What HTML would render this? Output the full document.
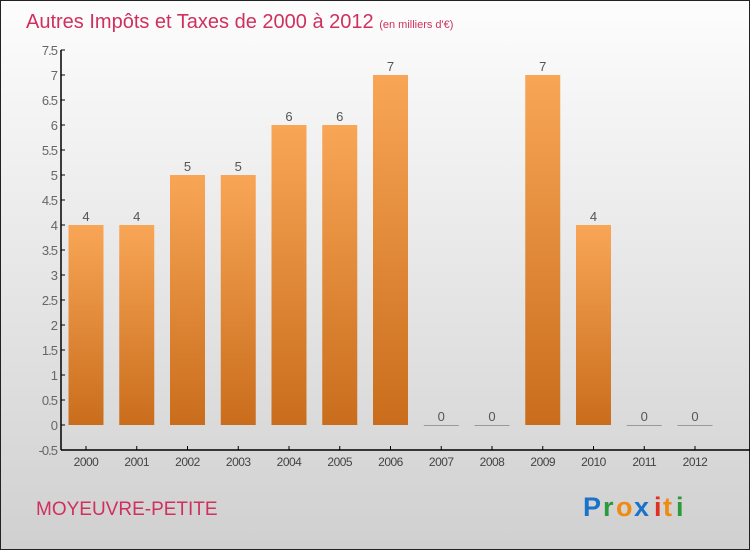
<!DOCTYPE html>
<html><head><meta charset="utf-8"><style>
body{margin:0;width:750px;height:550px;overflow:hidden;font-family:"Liberation Sans",sans-serif}
</style></head><body>
<svg width="750" height="550" xmlns="http://www.w3.org/2000/svg">
<defs>
<linearGradient id="bg" x1="0" y1="0" x2="0" y2="1"><stop offset="0" stop-color="#fdfdfd"/><stop offset="1" stop-color="#d0d0d0"/></linearGradient>
<linearGradient id="bar" x1="0" y1="0" x2="0" y2="1"><stop offset="0" stop-color="#f8a656"/><stop offset="1" stop-color="#c96d1c"/></linearGradient>
</defs>
<rect x="0.5" y="0.5" width="749" height="549" fill="url(#bg)" stroke="#222"/>
<text x="26" y="28" font-size="20" fill="#d0305e">Autres Impôts et Taxes de 2000 à 2012 <tspan font-size="11">(en milliers d'€)</tspan></text>
<g id="yaxis"></g>
<g id="xaxis"></g>
<g id="bars"></g>
<text x="36" y="515" font-size="19" fill="#d0305e">MOYEUVRE-PETITE</text>
<g font-size="27" font-weight="bold">
<text x="583" y="516" fill="#1a73c8">P</text><text x="603" y="516" fill="#2a9a3a">r</text><text x="616" y="516" fill="#f08a10">o</text><text x="634" y="516" fill="#1a73c8">x</text><text x="654" y="516" fill="#e03020">i</text><text x="663" y="516" fill="#f08a10">t</text><text x="676" y="516" fill="#2a9a3a">i</text>
</g>
</svg>
<script>
const years=["2000","2001","2002","2003","2004","2005","2006","2007","2008","2009","2010","2011","2012"];
const values=[4,4,5,5,6,6,7,0,0,7,4,0,0];
const yTicks=[-0.5,0,0.5,1,1.5,2,2.5,3,3.5,4,4.5,5,5.5,6,6.5,7,7.5];
const yTickLabels=["-0.5","0","0.5","1","1.5","2","2.5","3","3.5","4","4.5","5","5.5","6","6.5","7","7.5"];
const NS="http://www.w3.org/2000/svg";
const y=v=>425-v*50;
const xc=i=>86+i*50.75;
function mk(t,a,p){const e=document.createElementNS(NS,t);for(const k in a)e.setAttribute(k,a[k]);p.appendChild(e);return e;}
const ya=document.getElementById('yaxis'),xa=document.getElementById('xaxis'),bs=document.getElementById('bars');
mk('line',{x1:61,y1:y(7.5),x2:61,y2:y(-0.5),stroke:'#000','stroke-width':1.5},ya);
yTicks.forEach((v,i)=>{
  mk('line',{x1:61,y1:y(v),x2:65,y2:y(v),stroke:'#000'},ya);
  const t=mk('text',{x:57,y:y(v)+5,'text-anchor':'end','font-size':13,fill:'#666','letter-spacing':'-1'},ya);
  t.textContent=yTickLabels[i];
  
  
});
mk('line',{x1:61,y1:y(-0.5),x2:750,y2:y(-0.5),stroke:'#000','stroke-width':1.5},xa);
years.forEach((yr,i)=>{
  mk('line',{x1:xc(i),y1:y(-0.5),x2:xc(i),y2:y(-0.5)-4,stroke:'#000'},xa);
  const t=mk('text',{x:xc(i),y:466,'text-anchor':'middle','font-size':12,fill:'#444','letter-spacing':'-0.5'},xa);
  t.textContent=yr;
  
  
  const v=values[i];
  const top=y(v),h=Math.max(y(0)-top,1);
  const r=mk('rect',{x:xc(i)-17.5,y:top,width:35,height:h,fill:v>0?'url(#bar)':'#999'},bs);
  
  
  const l=mk('text',{x:xc(i),y:top-4,'text-anchor':'middle','font-size':13,fill:'#555'},bs);
  l.textContent=String(v);
  
  
});
</script>
</body></html>
